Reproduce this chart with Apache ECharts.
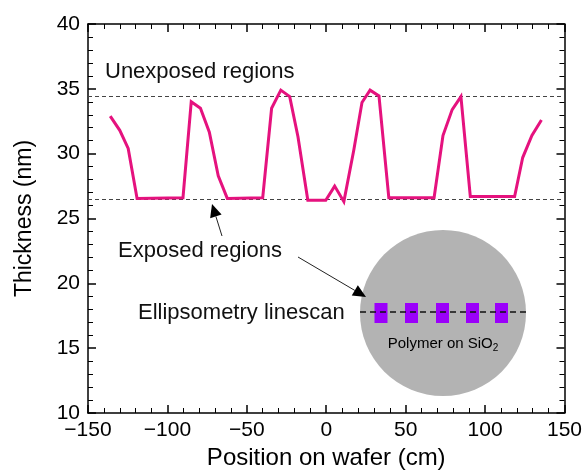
<!DOCTYPE html>
<html>
<head>
<meta charset="utf-8">
<script src="https://cdn.jsdelivr.net/npm/echarts@6/dist/echarts.min.js"></script>
<style>
html,body{margin:0;padding:0;background:#fff;}
#c{width:585px;height:475px;}
</style>
</head>
<body>
<div id="c"></div>
<script>
// ---- data ----
var positions = [-136.0, -130.0, -124.7, -119.1, -90.2, -85.0, -79.2, -73.6, -68.0, -62.3,
  -40.0, -34.4, -28.6, -23.0, -17.8, -11.6, -0.3, 5.3, 11.1, 17.3, 22.5, 27.6, 33.2, 39.4,
  67.9, 73.5, 79.3, 84.8, 90.7, 118.6, 123.7, 129.5, 135.5];
var thickness = [32.9, 31.8, 30.4, 26.55, 26.6, 34.0, 33.5, 31.65, 28.3, 26.55,
  26.6, 33.5, 34.9, 34.4, 31.3, 26.4, 26.4, 27.5, 26.3, 30.25, 33.95, 34.9, 34.45, 26.6,
  26.6, 31.4, 33.4, 34.4, 26.7, 26.7, 29.7, 31.4, 32.6];
var referenceLevels = [34.4, 26.45]; // unexposed, exposed
var xTicks = [-150, -100, -50, 0, 50, 100, 150];
var yTicks = [10, 15, 20, 25, 30, 35, 40];

var FONT = '"Liberation Sans", Arial, Helvetica, sans-serif';
var chart = echarts.init(document.getElementById('c'), null, {renderer: 'canvas'});

function fmt(v){ return v < 0 ? '\u2212' + Math.abs(v) : String(v); }

function tickCommon(){
  return {
    axisLine: {show: true, onZero: false, lineStyle: {color: '#000', width: 1.5}},
    axisTick: {show: true, inside: true, length: 8, lineStyle: {color: '#000', width: 1.5}},
    minorTick: {show: true, splitNumber: 5, length: 5, lineStyle: {color: '#000', width: 1}},
    splitLine: {show: false},
    minorSplitLine: {show: false}
  };
}

function xAx(pos, showLabel){
  return Object.assign({
    type: 'value', position: pos,
    min: xTicks[0], max: xTicks[xTicks.length-1], interval: xTicks[1]-xTicks[0],
    axisLabel: {show: showLabel, formatter: fmt, fontSize: 21, color: '#000', fontFamily: FONT, margin: 7},
    name: showLabel ? 'Position on wafer (cm)' : '',
    nameLocation: 'middle', nameGap: 33,
    nameTextStyle: {fontSize: 24, color: '#000', fontFamily: FONT}
  }, tickCommon());
}
function yAx(pos, showLabel){
  return Object.assign({
    type: 'value', position: pos,
    min: yTicks[0], max: yTicks[yTicks.length-1], interval: yTicks[1]-yTicks[0],
    axisLabel: {show: showLabel, fontSize: 21, color: '#000', fontFamily: FONT, margin: 8},
    name: showLabel ? 'Thickness (nm)' : '',
    nameLocation: 'middle', nameGap: 52,
    nameTextStyle: {fontSize: 23, color: '#000', fontFamily: FONT}
  }, tickCommon());
}

function arrow(x1, y1, x2, y2){
  var ang = Math.atan2(y2 - y1, x2 - x1);
  var L = 13, W = 6;
  var bx = x2 - L*Math.cos(ang), by = y2 - L*Math.sin(ang);
  var px = -Math.sin(ang)*W, py = Math.cos(ang)*W;
  return [
    {type: 'line', shape: {x1: x1, y1: y1, x2: bx, y2: by}, style: {stroke: '#222', lineWidth: 1}, z: 50},
    {type: 'polygon', shape: {points: [[x2, y2], [bx+px, by+py], [bx-px, by-py]]}, style: {fill: '#000'}, z: 50}
  ];
}

var squaresX = [381, 411.5, 442.5, 472.5, 501.5];
var graphics = [
  {type: 'circle', shape: {cx: 443, cy: 313, r: 83}, style: {fill: '#b3b3b3'}, z: 40},
  {type: 'text', x: 105, y: 72, style: {text: 'Unexposed regions', font: '22px ' + FONT, fill: '#111', textVerticalAlign: 'middle'}, z: 50},
  {type: 'text', x: 118, y: 251, style: {text: 'Exposed regions', font: '22px ' + FONT, fill: '#111', textVerticalAlign: 'middle'}, z: 50},
  {type: 'text', x: 138, y: 313, style: {text: 'Ellipsometry linescan', font: '22px ' + FONT, fill: '#111', textVerticalAlign: 'middle'}, z: 50},
  {type: 'text', x: 443, y: 344, style: {
    text: '{a|Polymer on SiO}{b|2}', textAlign: 'center', textVerticalAlign: 'middle',
    rich: {a: {fontSize: 15, fontFamily: FONT, color: '#333'}, b: {fontSize: 10, fontFamily: FONT, color: '#333', padding: [8, 0, 0, 0]}}
  }, z: 50}
];
squaresX.forEach(function(cx){
  graphics.push({type: 'rect', shape: {x: cx - 6.5, y: 303, width: 13, height: 20}, style: {fill: '#9b00fa'}, z: 45});
});
graphics.push({type: 'line', shape: {x1: 360, y1: 312, x2: 528, y2: 312}, style: {stroke: '#111', lineWidth: 1.5, lineDash: [6, 4]}, z: 46});
graphics = graphics.concat(arrow(222, 236, 212, 204));
graphics = graphics.concat(arrow(298, 257, 366, 297));

var option = {
  animation: false,
  backgroundColor: '#fff',
  grid: {left: 88, right: 13, top: 24, bottom: 59, containLabel: false},
  xAxis: [xAx('bottom', true), xAx('top', false)],
  yAxis: [yAx('left', true), yAx('right', false)],
  series: [{
    type: 'line',
    xAxisIndex: 0, yAxisIndex: 0,
    data: positions.map(function(x, i){ return [x, thickness[i]]; }),
    showSymbol: false, symbol: 'none',
    lineStyle: {color: '#e5127e', width: 3, join: 'miter'},
    z: 10,
    markLine: {
      silent: true, symbol: 'none', label: {show: false},
      lineStyle: {color: '#444', type: [4, 3], width: 1},
      data: referenceLevels.map(function(v){ return {yAxis: v}; })
    }
  }],
  graphic: graphics
};
chart.setOption(option);
</script>
</body>
</html>
